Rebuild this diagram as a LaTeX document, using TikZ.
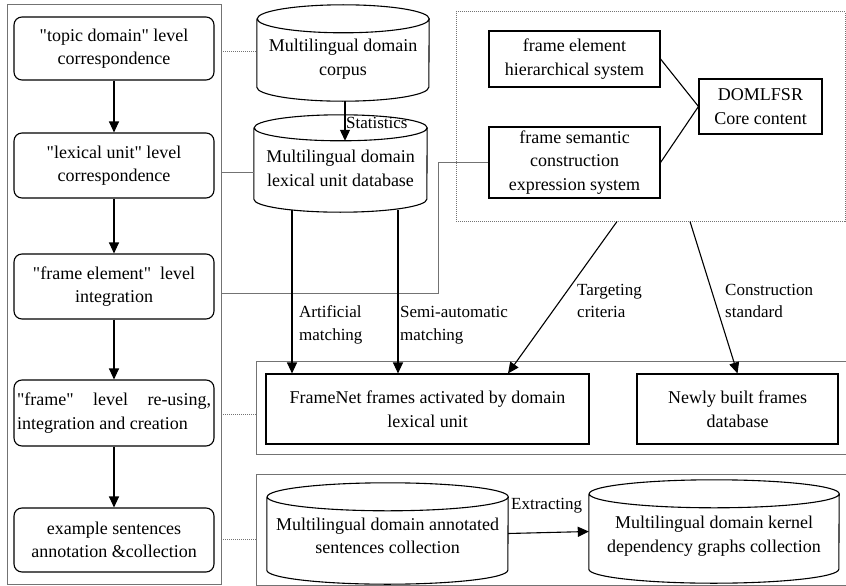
\documentclass[tikz,border=0pt]{standalone}
\usepackage{fontspec}
\setmainfont{Liberation Serif}
% same family without TeX ligature mapping, so " stays a straight quote
\newfontfamily\rawserif{Liberation Serif}
\usetikzlibrary{arrows.meta,calc}

\newcommand\bxfont{\rawserif\fontsize{18}{23.5}\selectfont}
\newcommand\lbfont{\rawserif\fontsize{17}{22.5}\selectfont}

% cylinder outline around a named rectangle node: #1 node, #2 half width, #3 ellipse radius
\newcommand\drawcyl[3]{%
  \draw[line width=1.1pt]
    ([yshift=-#3 pt]#1.north west) -- ([yshift=#3 pt]#1.south west)
    arc[start angle=180,end angle=360,x radius=#2 pt,y radius=#3 pt]
    -- ([yshift=-#3 pt]#1.north east)
    arc[start angle=0,end angle=180,x radius=#2 pt,y radius=#3 pt]
    arc[start angle=180,end angle=360,x radius=#2 pt,y radius=#3 pt];
}

\tikzset{
  rbox/.style={draw, rounded corners=8pt, line width=1.1pt, align=center,
    font=\bxfont, inner sep=2pt, minimum width=200pt},
  sbox/.style={draw, line width=1.1pt, align=center, font=\bxfont, inner sep=2pt},
  area/.style={inner sep=0pt},
  grp/.style={draw=black!55, line width=0.9pt},
  dotgrp/.style={draw=black!55, densely dotted, line width=1pt},
  link/.style={draw=black!55, line width=0.9pt},
  dotlink/.style={draw=black!55, densely dotted, line width=1pt},
  arr/.style={-{Triangle[length=11pt,width=10pt]}, line width=1.1pt},
  lbl/.style={font=\lbfont, align=left, inner sep=0pt, anchor=west},
  ctext/.style={font=\bxfont, align=center, inner sep=0pt},
}

\begin{document}
\begin{tikzpicture}[x=1pt,y=1pt]
\useasboundingbox[fill=white] (0,0) rectangle (846,-586);

% group frames
\node[grp, area, minimum width=214pt, minimum height=580pt] (outer) at (114,-294) {};
\node[dotgrp, area, minimum width=389pt, minimum height=209pt] (dotbox) at (650.5,-116.5) {};
\node[grp, area, minimum width=592pt, minimum height=93pt] (midbox) at (552,-407.5) {};
\node[grp, area, minimum width=592pt, minimum height=111pt] (botbox) at (552,-529.5) {};

% left column of steps
\node[rbox, minimum height=63pt] (b1) at (114,-48.5) {"topic domain" level\\correspondence};
\node[rbox, minimum height=65pt] (b2) at (114,-165.5) {"lexical unit" level\\correspondence};
\node[rbox, minimum height=65pt] (b3) at (114,-286.5) {"frame element"\ \ level\\integration};
\node[rbox, minimum height=66pt, text width=194pt, align=justify] (b4) at (114,-413)
  {"frame" level re-using,\linebreak integration and creation};
\node[rbox, minimum height=64pt] (b5) at (114,-540) {example sentences\\annotation \&collection};

\draw[arr] (b1) -- (b2);
\draw[arr] (b2) -- (b3);
\draw[arr] (b3) -- (b4);
\draw[arr] (b4) -- (b5);

% databases
\node[area, minimum width=172pt, minimum height=96pt] (cyl1) at (343,-53) {};
\drawcyl{cyl1}{86}{14}
\node[ctext] (cyl1t) at (343,-59) {Multilingual domain\\corpus};

\node[area, minimum width=173pt, minimum height=97pt] (cyl2) at (340.5,-163.5) {};
\drawcyl{cyl2}{86.5}{13}
\node[ctext] (cyl2t) at (340.5,-168.5) {Multilingual domain\\lexical unit database};

\node[area, minimum width=241pt, minimum height=101pt] (cyl3) at (387.5,-533.5) {};
\drawcyl{cyl3}{120.5}{14}
\node[ctext] (cyl3t) at (387.5,-536) {Multilingual domain annotated\\sentences collection};

\node[area, minimum width=250pt, minimum height=103pt] (cyl4) at (714,-531.5) {};
\drawcyl{cyl4}{125}{14}
\node[ctext] (cyl4t) at (714,-536) {Multilingual domain kernel\\dependency graphs collection};

% core content
\node[sbox, minimum width=171pt, minimum height=56pt] (fe) at (574.5,-59) {frame element\\hierarchical system};
\node[sbox, minimum width=171pt, minimum height=71pt] (fs) at (574.5,-162.5) {frame semantic\\construction\\expression system};
\node[sbox, minimum width=123pt, minimum height=55pt] (dom) at (760.5,-106.5) {DOMLFSR\\Core content};
\draw[line width=1.1pt] (fe.east) -- (dom.west);
\draw[line width=1.1pt] (fs.east) -- (dom.west);

% frame databases
\node[sbox, minimum width=323pt, minimum height=70pt] (fn) at (427.5,-409) {FrameNet frames activated by domain\\lexical unit};
\node[sbox, minimum width=201pt, minimum height=70pt] (nb) at (737.5,-409) {Newly built frames\\database};

% links from the left column
\coordinate (d1) at (221,-52);
\coordinate (d2) at (221,-172);
\coordinate (d3) at (221,-293);
\coordinate (j3) at (438,-293);
\draw[dotlink] (d1) -- (d1 -| cyl1.west);
\draw[link] (d2) -- (d2 -| cyl2.west);
\draw[link] (d3) -- (j3) |- (fs.west);
\coordinate (d4) at (221,-414);
\coordinate (d5) at (221,-539);
\draw[dotlink] (d4) -- (d4 -| midbox.west);
\draw[dotlink] (d5) -- (d5 -| botbox.west);

% process arrows
\draw[arr] ([xshift=2pt]cyl1.south) -- ([xshift=2pt,yshift=-26pt]cyl1.south |- cyl2.north);
\node[lbl] (stat) at (346,-123) {Statistics};

\coordinate (m1) at (292,-210);
\coordinate (m2) at (398,-210);
\draw[arr] (m1) -- (m1 |- fn.north);
\draw[arr] (m2) -- (m2 |- fn.north);
\node[lbl] (artl) at (299,-325) {Artificial\\matching};
\node[lbl] (semil) at (400,-325) {Semi-automatic\\matching};

\draw[arr] ([xshift=-33.5pt]dotbox.south) -- ([xshift=80.5pt]fn.north);
\draw[arr] ([xshift=39.5pt]dotbox.south) -- (nb.north);
\node[lbl] (targl) at (577,-301) {Targeting\\criteria};
\node[lbl] (consl) at (725,-301) {Construction\\standard};

\draw[arr] (cyl3.east) -- (cyl4.west);
\node[lbl] (extl) at (511,-506) {Extracting};

\end{tikzpicture}
\end{document}
